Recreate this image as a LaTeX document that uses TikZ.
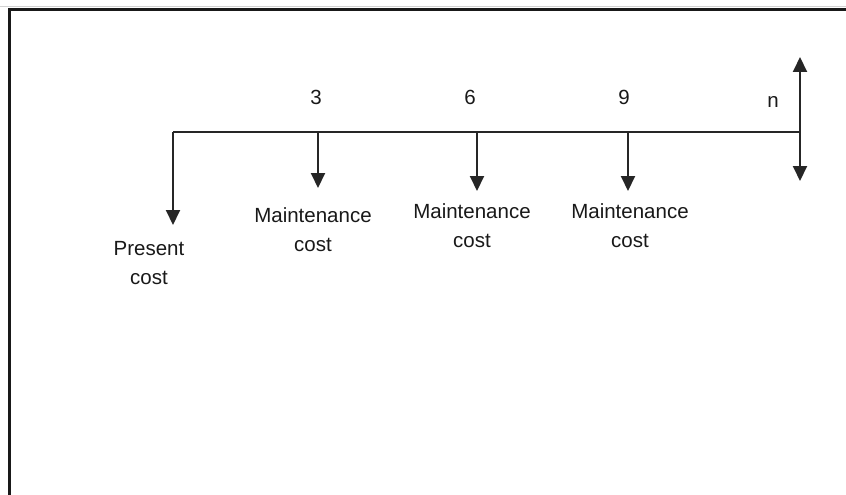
\documentclass[tikz,border=0pt]{standalone}
\usepackage{fontspec}
\setmainfont{Liberation Sans}
\usetikzlibrary{arrows.meta}
\begin{document}
\begin{tikzpicture}[x=1pt,y=-1pt,
  lbl/.style={font=\fontsize{20.5}{29}\selectfont, align=center, inner sep=0pt, text=black!90},
  axis/.style={line width=2pt, black!85},
  cf/.style={line width=2pt, black!85, -{Triangle[length=15pt,width=14pt]}},
  cfboth/.style={line width=2pt, black!85, {Triangle[length=15pt,width=14pt]}-{Triangle[length=15pt,width=14pt]}}]
\useasboundingbox (0,0) rectangle (846,495);
\fill[white] (0,0) rectangle (846,495);
% frame
\draw[gray!35, line width=1pt] (0,6.5) -- (846,6.5);
\draw[line width=2.6pt, black!90] (9.5,495) -- (9.5,9.5) -- (846,9.5);
% time line points
\coordinate (t0) at (173,132);
\coordinate (t3) at (318,132);
\coordinate (t6) at (477,132);
\coordinate (t9) at (628,132);
\coordinate (tn) at (800,132);
\coordinate (p0) at (173,225);
\coordinate (p3) at (318,188);
\coordinate (p6) at (477,191);
\coordinate (p9) at (628,191);
\coordinate (nup) at (800,57);
\coordinate (ndn) at (800,181);
\draw[axis] (t0) -- (tn);
\draw[cf] (t0) -- (p0);
\draw[cf] (t3) -- (p3);
\draw[cf] (t6) -- (p6);
\draw[cf] (t9) -- (p9);
\draw[cfboth] (ndn) -- (nup);
% labels
\node[lbl] (l3) at (316,97) {3};
\node[lbl] (l6) at (470,97) {6};
\node[lbl] (l9) at (624,97) {9};
\node[lbl] (ln) at (773,102) {n};
\node[lbl] (c0) at (149,263) {Present\\cost};
\node[lbl] (c3) at (313,230) {Maintenance\\cost};
\node[lbl] (c6) at (472,226) {Maintenance\\cost};
\node[lbl] (c9) at (630,226) {Maintenance\\cost};
\end{tikzpicture}
\end{document}
